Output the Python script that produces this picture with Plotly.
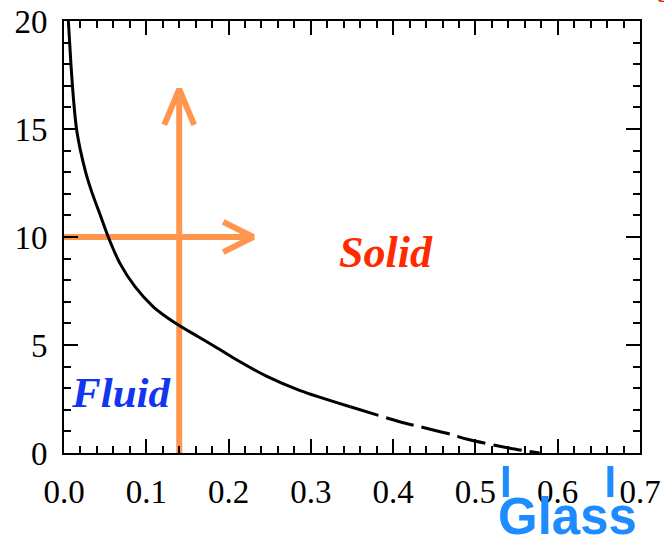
import plotly.graph_objects as go

# --- data ---
solid_x = [0.0053, 0.0085, 0.0125, 0.0154, 0.0203, 0.0267, 0.0336, 0.0437, 0.0539, 0.068, 0.0863,
           0.1085, 0.1328, 0.1632, 0.1867, 0.206, 0.246, 0.287, 0.348]
solid_y = [20.0, 17.96, 15.96, 14.95, 13.95, 12.95, 12.1, 11.05, 9.99, 8.78, 7.70,
           6.77, 6.08, 5.38, 4.85, 4.40, 3.56, 2.89, 2.14]
dash_x = [0.348, 0.408, 0.469, 0.489, 0.542, 0.578]
dash_y = [2.14, 1.45, 0.88, 0.65, 0.22, 0.0]

# orange arrows (shaft start, tip) and head half-sizes
v_arrow_x = [0.14, 0.14]
v_arrow_y = [0.0, 16.85]
h_arrow_x = [0.0, 0.23]
h_arrow_y = [10.0, 10.0]
head_dx = 0.0182   # vertical arrow head half width
head_dy = 1.66     # vertical arrow head length
hhead_dx = 0.0365  # horizontal arrow head length
hhead_dy = 0.70    # horizontal arrow head half width

glass_marks_x = [0.537, 0.664]

ORANGE = "#FF9650"
serif = "Liberation Serif, Times New Roman, serif"

fig = go.Figure()

# vertical arrow
vx = [v_arrow_x[0], v_arrow_x[1], None,
      v_arrow_x[1] - head_dx, v_arrow_x[1], v_arrow_x[1] + head_dx]
vy = [v_arrow_y[0], v_arrow_y[1], None,
      v_arrow_y[1] - head_dy, v_arrow_y[1], v_arrow_y[1] - head_dy]
fig.add_trace(go.Scatter(x=vx, y=vy, mode="lines", line=dict(color=ORANGE, width=6),
                         hoverinfo="skip", showlegend=False, cliponaxis=False))
# horizontal arrow
hx = [h_arrow_x[0], h_arrow_x[1], None,
      h_arrow_x[1] - hhead_dx, h_arrow_x[1], h_arrow_x[1] - hhead_dx]
hy = [h_arrow_y[0], h_arrow_y[1], None,
      h_arrow_y[1] + hhead_dy, h_arrow_y[1], h_arrow_y[1] - hhead_dy]
fig.add_trace(go.Scatter(x=hx, y=hy, mode="lines", line=dict(color=ORANGE, width=6),
                         hoverinfo="skip", showlegend=False, cliponaxis=False))

# freezing curve
fig.add_trace(go.Scatter(x=solid_x, y=solid_y, mode="lines",
                         line=dict(color="black", width=3, shape="spline", smoothing=0.7),
                         showlegend=False, cliponaxis=False))
fig.add_trace(go.Scatter(x=dash_x, y=dash_y, mode="lines",
                         line=dict(color="black", width=3, shape="spline", smoothing=0.7,
                                   dash="29px,8px"),
                         showlegend=False, cliponaxis=False))

annotations = [
    dict(x=0.391, y=9.3, text="<b><i>Solid</i></b>", showarrow=False,
         font=dict(family=serif, size=44, color="#FF2A00"), xanchor="center", yanchor="middle"),
    dict(x=0.0687, y=2.8, text="<b><i>Fluid</i></b>", showarrow=False,
         font=dict(family=serif, size=43, color="#1236F0"), xanchor="center", yanchor="middle"),
    dict(x=0.612, y=-0.148, xref="x", yref="paper", text="<b>Glass</b>", showarrow=False,
         font=dict(family="Liberation Sans, Arial, sans-serif", size=51, color="#1E8CFF"),
         xanchor="center", yanchor="middle"),
    dict(x=1.027, y=1.062, xref="paper", yref="paper", text="<b><i>S</i></b>", showarrow=False,
         font=dict(family=serif, size=24, color="#E02000"), xanchor="left", yanchor="middle"),
]

shapes = [
    dict(type="line", xref="x", yref="paper", x0=gx, x1=gx, y0=-0.030, y1=-0.102,
         line=dict(color="#1E8CFF", width=6))
    for gx in glass_marks_x
]

axis_common = dict(
    showline=True, linecolor="black", linewidth=2, mirror="ticks",
    ticks="inside", ticklen=14, tickwidth=2, tickcolor="black",
    showgrid=False, zeroline=False, automargin=False,
    tickfont=dict(family=serif, size=33, color="black"),
)

fig.update_layout(
    width=664, height=540,
    margin=dict(l=64, r=24, t=21, b=87),
    paper_bgcolor="white", plot_bgcolor="white",
    xaxis=dict(range=[0, 0.7], dtick=0.1, tick0=0, tickformat=".1f",
               minor=dict(dtick=0.02, ticks="inside", ticklen=7, tickwidth=2, tickcolor="black"),
               ticklabelstandoff=8, **axis_common),
    yaxis=dict(range=[0, 20], dtick=5, tick0=0,
               minor=dict(dtick=1, ticks="inside", ticklen=7, tickwidth=2, tickcolor="black"),
               ticklabelstandoff=8, **axis_common),
    annotations=annotations,
    shapes=shapes,
)

fig.write_html("out.html")
